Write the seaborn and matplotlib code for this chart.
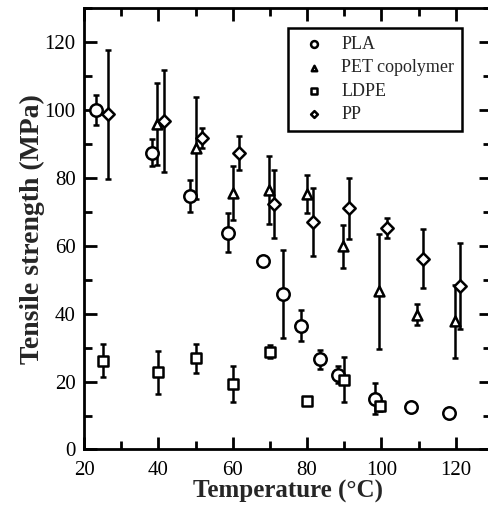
import matplotlib
matplotlib.use("Agg")
import matplotlib.pyplot as plt
import seaborn as sns
import pandas as pd
import numpy as np
from matplotlib.ticker import MultipleLocator

# values
pla_t = [23.2, 38.4, 48.4, 58.6, 68.1, 73.5, 78.4, 83.5, 88.4, 98.4, 108.1, 118.1]
pla_s = [100, 87.4, 74.7, 63.9, 55.6, 45.9, 36.5, 26.5, 22.0, 15.0, 12.4, 10.6]
pla_e = [4.5, 4.0, 4.7, 5.8, 1.5, 13.0, 4.5, 2.8, 2.5, 4.5, 0, 0]

pet_t = [39.7, 50.0, 60.0, 69.7, 80.0, 89.7, 99.5, 109.7, 119.7]
pet_s = [95.9, 88.9, 75.6, 76.5, 75.3, 59.8, 46.6, 39.7, 37.7]
pet_e = [12.0, 15.0, 8.0, 10.0, 5.5, 6.3, 17.0, 3.0, 10.8]

ldpe_t = [25.2, 39.8, 50.0, 60.0, 70.0, 80.0, 90.0, 99.7]
ldpe_s = [26.2, 22.7, 26.8, 19.4, 28.8, 14.4, 20.6, 12.9]
ldpe_e = [5.0, 6.3, 4.4, 5.3, 2.0, 0.8, 6.6, 1.5]

pp_t = [26.5, 41.4, 51.6, 61.6, 71.0, 81.6, 91.4, 101.4, 111.3, 121.1]
pp_s = [98.8, 96.8, 91.7, 87.3, 72.3, 67.1, 71.1, 65.2, 56.2, 48.2]
pp_e = [19.0, 15.0, 3.0, 5.0, 10.0, 10.0, 9.0, 3.0, 8.7, 12.6]

labels = ["PLA", "PET copolymer", "LDPE", "PP"]

df = pd.concat([
    pd.DataFrame({"T": pla_t, "S": pla_s, "E": pla_e, "Polymer": "PLA"}),
    pd.DataFrame({"T": pet_t, "S": pet_s, "E": pet_e, "Polymer": "PET copolymer"}),
    pd.DataFrame({"T": ldpe_t, "S": ldpe_s, "E": ldpe_e, "Polymer": "LDPE"}),
    pd.DataFrame({"T": pp_t, "S": pp_s, "E": pp_e, "Polymer": "PP"}),
], ignore_index=True)

sns.set_style("ticks")
plt.rcParams["font.family"] = ["Liberation Serif", "DejaVu Serif"]

fig = plt.figure(figsize=(4.89, 5.09), dpi=100)
ax = fig.add_axes([0.172, 0.117, 0.832, 0.867])

# error bars first, markers on top
for name in labels:
    d = df[df["Polymer"] == name]
    ax.errorbar(d["T"], d["S"], yerr=d["E"], fmt="none", ecolor="black",
                elinewidth=1.8, capsize=2.5, capthick=1.8, zorder=2)

markers = {"PLA": "o", "PET copolymer": "^", "LDPE": "s", "PP": "D"}
sizes = {"PLA": 80, "PET copolymer": 50, "LDPE": 45, "PP": 40}
for name in labels:
    d = df[df["Polymer"] == name]
    sns.scatterplot(data=d, x="T", y="S", marker=markers[name], s=sizes[name],
                    facecolor="white", edgecolor="black", linewidth=1.8,
                    label=name, ax=ax, zorder=3)

ax.set_xlim(20, 129.5)
ax.set_ylim(0, 130)
ax.xaxis.set_major_locator(MultipleLocator(20))
ax.xaxis.set_minor_locator(MultipleLocator(10))
ax.yaxis.set_major_locator(MultipleLocator(20))
ax.yaxis.set_minor_locator(MultipleLocator(10))
ax.tick_params(which="both", direction="in", top=True, right=True, width=2,
               labelsize=15, colors="black")
ax.tick_params(which="major", length=9)
ax.tick_params(which="minor", length=6)
ax.tick_params(axis="x", pad=8)
ax.tick_params(axis="y", pad=6)
for sp in ax.spines.values():
    sp.set_linewidth(2)
    sp.set_color("black")

ax.set_xlabel("Temperature (\u00b0C)", fontsize=18, fontweight="bold", labelpad=0)
ax.set_ylabel("Tensile strength (MPa)", fontsize=20, fontweight="bold", labelpad=0)

leg = ax.legend(loc="upper right", bbox_to_anchor=(0.93, 0.955), fontsize=13,
                frameon=True, fancybox=False, edgecolor="black",
                markerscale=0.55, handlelength=2.0, handletextpad=0.5,
                borderpad=0.45, borderaxespad=0, labelspacing=0.35)
leg.get_frame().set_linewidth(1.8)
leg.get_frame().set_alpha(1)

fig.savefig("out.png", dpi=100, facecolor="white")
